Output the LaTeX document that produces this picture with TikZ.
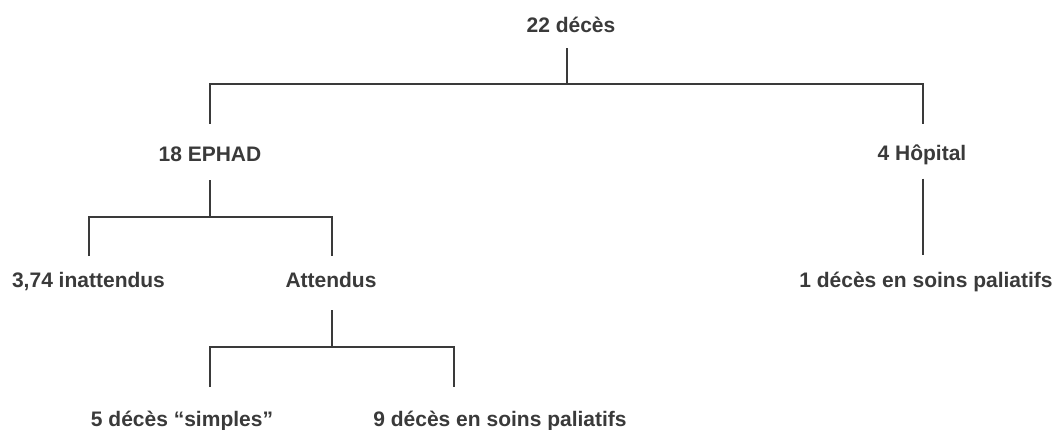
\documentclass[tikz,border=0pt]{standalone}
\usepackage{fontspec}
\setmainfont{Liberation Sans}
\usetikzlibrary{calc}
\definecolor{ink}{RGB}{58,58,58}
\begin{document}
\begin{tikzpicture}[x=1pt,y=-1pt,
  lbl/.style={anchor=base,inner sep=0pt,text=ink,font=\fontsize{21}{25}\selectfont\bfseries},
  conn/.style={draw=ink,line width=1.9pt}]
\useasboundingbox (0,0) rectangle (1057,429);
\node[lbl] (t22)   at (571,32)    {22 décès};
\node[lbl] (ephad) at (210,161.5) {18 EPHAD};
\node[lbl] (hop)   at (922,160.5) {4 Hôpital};
\node[lbl] (inatt) at (88.5,287)  {3,74 inattendus};
\node[lbl] (att)   at (331,287)   {Attendus};
\node[lbl] (pal1)  at (926,287)   {1 décès en soins paliatifs};
\node[lbl] (simp)  at (182,426)   {5 décès “simples”};
\node[lbl] (pal2)  at (500,426)   {9 décès en soins paliatifs};
% level 1
\draw[conn] ([xshift=-4pt,yshift=-16pt]t22.base) -- ([xshift=-4pt,yshift=-52pt]t22.base) coordinate (j0);
\draw[conn] ([yshift=38pt]ephad.base) |- (j0) -| ([xshift=1pt,yshift=37pt]hop.base);
% EPHAD
\draw[conn] ([yshift=-18.5pt]ephad.base) -- ([yshift=-55.5pt]ephad.base) coordinate (j1);
\draw[conn] ([xshift=0.5pt,yshift=31pt]inatt.base) |- (j1) -| ([xshift=1pt,yshift=31pt]att.base);
% Attendus
\draw[conn] ([xshift=1pt,yshift=-23pt]att.base) -- ([xshift=1pt,yshift=-60pt]att.base) coordinate (j2);
\draw[conn] ([xshift=28pt,yshift=39pt]simp.base) |- (j2) -| ([xshift=-46pt,yshift=39pt]pal2.base);
% Hopital
\draw[conn] ([xshift=1pt,yshift=-18pt]hop.base) -- ([xshift=-3pt,yshift=32pt]pal1.base);
\end{tikzpicture}
\end{document}
